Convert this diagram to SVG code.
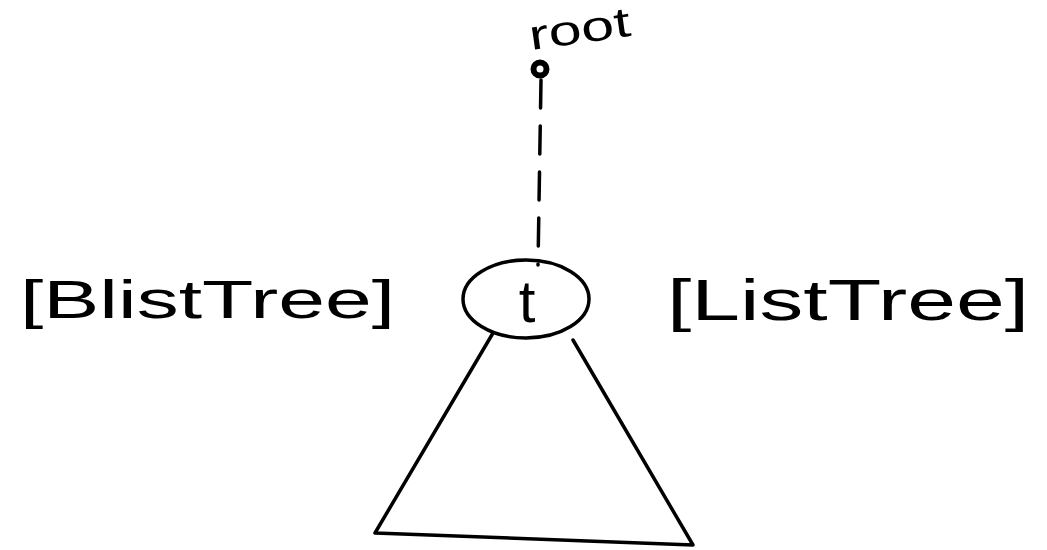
<svg xmlns="http://www.w3.org/2000/svg" width="1047" height="550" viewBox="0 0 1047 550">
<style>
.ink{fill:none;stroke:#000;stroke-width:3.5;stroke-linecap:round;stroke-linejoin:round}
.lbl{font-family:"Liberation Sans",Arial,sans-serif;fill:#000}
</style>
<rect width="1047" height="550" fill="#fff"/>
<g id="connectors">
<path class="ink" d="M541 80 L538 265" stroke-dasharray="28 18"/>
</g>
<g id="root">
<circle class="ink" cx="540" cy="69" r="6.5" style="stroke-width:6"/>
<text class="lbl" x="531" y="50" font-size="42" transform="rotate(-8 531 50)" textLength="102" lengthAdjust="spacingAndGlyphs">root</text>
</g>
<g id="t">
<ellipse class="ink" cx="526" cy="299" rx="63" ry="39"/>
<text class="lbl" x="527" y="322" font-size="60" text-anchor="middle">t</text>
</g>
<g id="tree">
<path class="ink" d="M493 333 L375 533 L693 545 L573 340"/>
</g>
<g id="blisttree">
<text class="lbl" x="20" y="318" font-size="54" textLength="375" lengthAdjust="spacingAndGlyphs">[BlistTree]</text>
</g>
<g id="listtree">
<text class="lbl" x="667" y="320" font-size="58" textLength="362" lengthAdjust="spacingAndGlyphs">[ListTree]</text>
</g>
</svg>
